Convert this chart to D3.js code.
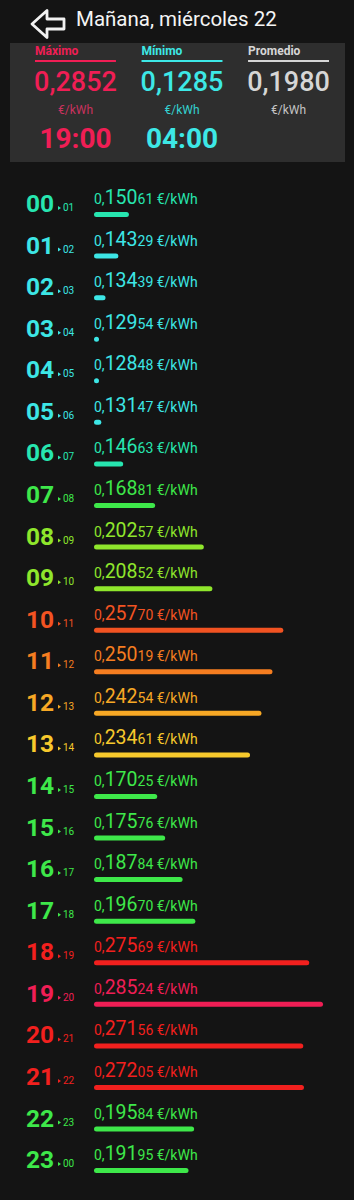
<!DOCTYPE html>
<html>
<head>
<meta charset="utf-8">
<script src="https://cdn.jsdelivr.net/npm/d3@7"></script>
<style>
  html, body { margin: 0; padding: 0; background: #141414; }
  svg { display: block; font-family: Roboto, 'Noto Sans', sans-serif; }
</style>
</head>
<body>
<svg id="chart" width="354" height="1200"></svg>
<script>
// Data
const hours = ['00', '01', '02', '03', '04', '05', '06', '07', '08', '09', '10', '11',
  '12', '13', '14', '15', '16', '17', '18', '19', '20', '21', '22', '23'];
const prices = [0.15061, 0.14329, 0.13439, 0.12954, 0.12848, 0.13147, 0.14663, 0.16881,
  0.20257, 0.20852, 0.25770, 0.25019, 0.24254, 0.23461, 0.17025, 0.17576, 0.18784, 0.19670,
  0.27569, 0.28524, 0.27156, 0.27205, 0.19584, 0.19195];
// Price band of every hour, as the app colours it
const levels = ['teal', 'cyan', 'cyan', 'cyan', 'cyan', 'cyan', 'teal', 'green',
  'lime', 'lime', 'orangeRed', 'orange', 'amber', 'yellow', 'green', 'green', 'green', 'green',
  'red', 'max', 'red', 'red', 'green', 'green'];
const summary = [
  { label: 'Máximo', value: '0,2852', time: '19:00', key: 'max' },
  { label: 'Mínimo', value: '0,1285', time: '04:00', key: 'min' },
  { label: 'Promedio', value: '0,1980', time: '', key: 'avg' }
];
const title = 'Mañana, miércoles 22';
const barFloor = 0.1264; // bar length starts counting here

const levelColor = d3.scaleOrdinal()
  .domain(['teal', 'cyan', 'green', 'lime', 'orangeRed', 'orange', 'amber', 'yellow', 'red', 'max'])
  .range(['#27e6b0', '#3de6e6', '#3ee84a', '#8fe62c', '#f25322', '#f57d20', '#f7a825', '#f7c92c', '#f2201e', '#f01e55']);
const summaryColor = { max: '#f01e55', min: '#3de8e6', avg: '#d6d6d6' };
const unitColor = { max: '#c9325e', min: '#34d2d0', avg: '#c4c4c4' };

const svg = d3.select('#chart');

// Header
svg.append('path')
  .attr('d', 'M32,24 L47,10.5 L47,19 L64,19 L64,29 L47,29 L47,37.5 Z')
  .attr('fill', 'none')
  .attr('stroke', '#f2f2f2')
  .attr('stroke-width', 2.8)
  .attr('stroke-linejoin', 'round');
svg.append('text')
  .attr('x', 76).attr('y', 26)
  .attr('fill', '#f5f5f5')
  .attr('font-size', 20.5)
  .text(title);

// Summary panel
svg.append('rect')
  .attr('x', 10).attr('y', 43).attr('width', 335).attr('height', 119)
  .attr('fill', '#2e2e2e');

const col = d3.scaleBand().domain(summary.map((d) => d.key)).range([35, 329]).paddingInner(0.24).paddingOuter(0);
const cols = svg.append('g').selectAll('g').data(summary).join('g')
  .attr('transform', (d) => `translate(${col(d.key)},0)`);
cols.append('text')
  .attr('x', 0).attr('y', 55)
  .attr('font-size', 12).attr('font-weight', 700)
  .attr('fill', (d) => summaryColor[d.key])
  .text((d) => d.label);
cols.append('rect')
  .attr('x', 0).attr('y', 60).attr('width', col.bandwidth()).attr('height', 2)
  .attr('fill', (d) => summaryColor[d.key]);
cols.append('text')
  .attr('x', col.bandwidth() / 2).attr('y', 91)
  .attr('text-anchor', 'middle')
  .attr('font-size', 27).attr('font-weight', 500)
  .attr('fill', (d) => summaryColor[d.key])
  .text((d) => d.value);
cols.append('text')
  .attr('x', col.bandwidth() / 2).attr('y', 114)
  .attr('text-anchor', 'middle')
  .attr('font-size', 12)
  .attr('fill', (d) => unitColor[d.key])
  .text('€/kWh');
cols.append('text')
  .attr('x', col.bandwidth() / 2).attr('y', 148)
  .attr('text-anchor', 'middle')
  .attr('font-size', 28).attr('font-weight', 700)
  .attr('fill', (d) => summaryColor[d.key])
  .text((d) => d.time);

// Hour rows
const y = d3.scalePoint().domain(hours).range([212, 212 + 23 * 41.57]);
const x = d3.scaleLinear().domain([barFloor, d3.max(prices)]).range([0, 229]);
const fmt = d3.format('.5f');
const rows = hours.map((h, i) => ({ hour: h, next: hours[(i + 1) % 24], price: prices[i], level: levels[i] }));

const row = svg.append('g').selectAll('g').data(rows).join('g')
  .attr('transform', (d) => `translate(0,${y(d.hour)})`)
  .attr('fill', (d) => levelColor(d.level));

row.append('text')
  .attr('x', 26).attr('y', 0)
  .attr('font-size', 24.5).attr('font-weight', 700)
  .text((d) => d.hour);
row.append('path')
  .attr('d', 'M58,-6 L61,-4 L58,-2 Z');
row.append('text')
  .attr('x', 63).attr('y', -1)
  .attr('font-size', 10)
  .text((d) => d.next);

const val = row.append('text')
  .attr('x', 94).attr('y', -8);
val.append('tspan').attr('font-size', 14).text('0,');
val.append('tspan').attr('font-size', 19.5).text((d) => fmt(d.price).slice(2, 5));
val.append('tspan').attr('font-size', 14).text((d) => fmt(d.price).slice(5) + ' €/kWh');

row.append('rect')
  .attr('x', 94).attr('y', 0)
  .attr('width', (d) => Math.max(5, x(d.price)))
  .attr('height', 5).attr('rx', 2.5);
</script>
</body>
</html>
